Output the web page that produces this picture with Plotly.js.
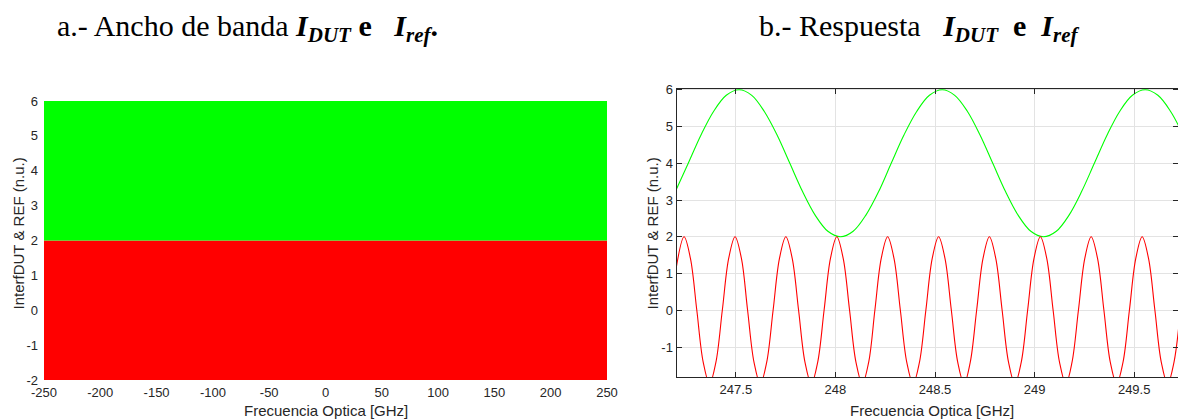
<!DOCTYPE html>
<html>
<head>
<meta charset="utf-8">
<script src="https://cdn.plot.ly/plotly-3.0.1.min.js"></script>
<style>html,body{margin:0;padding:0;background:#fff;}#chart{width:1178px;height:420px;}</style>
</head>
<body>
<div id="chart"></div>
<script>
// ---- Panel a: bandwidth (filled envelopes) ----
var bwFreq = [-250, 250];
var bwRefLow = [-2, -2];
var bwRefHigh = [2, 2];
var bwDutLow = [2, 2];
var bwDutHigh = [6, 6];
var bwTicks = [-250, -200, -150, -100, -50, 0, 50, 100, 150, 200, 250];
var bwTickText = ['-250', '-200', '-150', '-100', '-50', '0', '50', '100', '150', '200', '250'];
var bwTicksY = [-2, -1, 0, 1, 2, 3, 4, 5, 6];
var bwTickTextY = ['-2', '-1', '0', '1', '2', '3', '4', '5', '6'];

// ---- Panel b: response ----
var dutFreq = [247.202, 247.261, 247.325, 247.388, 247.452, 247.516, 247.580, 247.643, 247.707,
               247.771, 247.835, 247.898, 247.962, 248.026, 248.089, 248.153, 248.217,
               248.280, 248.344, 248.408, 248.472, 248.536, 248.599, 248.663, 248.726,
               248.790, 248.854, 248.917, 248.981, 249.045, 249.109, 249.173, 249.236,
               249.300, 249.364, 249.427, 249.491, 249.555, 249.619, 249.683, 249.746];
var dutVal  = [3.3, 4, 4.77, 5.41, 5.85, 6, 5.85, 5.41, 4.77,
               4, 3.23, 2.59, 2.15, 2, 2.15, 2.59, 3.23,
               4, 4.77, 5.41, 5.85, 6, 5.85, 5.41, 4.77,
               4, 3.23, 2.59, 2.15, 2, 2.15, 2.59, 3.23,
               4, 4.77, 5.41, 5.85, 6, 5.85, 5.41, 4.77];

var refFreq = [247.202, 247.240, 247.272, 247.304, 247.336, 247.368, 247.400, 247.432, 247.464,
               247.496, 247.528, 247.559, 247.591, 247.623, 247.655, 247.687, 247.719,
               247.751, 247.783, 247.815, 247.847, 247.879, 247.911, 247.943, 247.975,
               248.007, 248.039, 248.071, 248.103, 248.135, 248.167, 248.198, 248.230,
               248.262, 248.294, 248.326, 248.358, 248.390, 248.422, 248.454, 248.486,
               248.518, 248.550, 248.582, 248.614, 248.646, 248.677, 248.709, 248.741,
               248.773, 248.805, 248.837, 248.869, 248.901, 248.933, 248.965, 248.997,
               249.029, 249.061, 249.093, 249.125, 249.157, 249.188, 249.220, 249.252,
               249.284, 249.316, 249.348, 249.380, 249.412, 249.444, 249.476, 249.508,
               249.540, 249.572, 249.604, 249.636, 249.668, 249.700, 249.732];
var refVal  = [1.2, 2, 1.41, 0, -1.41, -2, -1.41, 0, 1.41,
               2, 1.41, 0, -1.41, -2, -1.41, 0, 1.41,
               2, 1.41, 0, -1.41, -2, -1.41, 0, 1.41,
               2, 1.41, 0, -1.41, -2, -1.41, 0, 1.41,
               2, 1.41, 0, -1.41, -2, -1.41, 0, 1.41,
               2, 1.41, 0, -1.41, -2, -1.41, 0, 1.41,
               2, 1.41, 0, -1.41, -2, -1.41, 0, 1.41,
               2, 1.41, 0, -1.41, -2, -1.41, 0, 1.41,
               2, 1.41, 0, -1.41, -2, -1.41, 0, 1.41,
               2, 1.41, 0, -1.41, -2, -1.41, 0];
var respTicksY = [-1, 0, 1, 2, 3, 4, 5, 6];
var respTickTextY = ['-1', '0', '1', '2', '3', '4', '5', '6'];
var respTicksX = [247.5, 248, 248.5, 249, 249.5];
var respTickTextX = ['247.5', '248', '248.5', '249', '249.5'];

var W = 1178, H = 420;
function px(x) { return x / W; }
function py(y) { return 1 - y / H; }

var textCol = '#262626';
var sans = 'Liberation Sans, Arial, sans-serif';
var serif = 'Liberation Serif, Times New Roman, serif';

var traces = [
  {x: bwFreq, y: bwRefLow, xaxis: 'x', yaxis: 'y', mode: 'lines', line: {width: 0, color: '#ff0000'}, hoverinfo: 'skip', showlegend: false},
  {x: bwFreq, y: bwRefHigh, xaxis: 'x', yaxis: 'y', mode: 'lines', fill: 'tonexty', fillcolor: '#ff0000', line: {width: 0, color: '#ff0000'}, showlegend: false},
  {x: bwFreq, y: bwDutLow, xaxis: 'x', yaxis: 'y', mode: 'lines', line: {width: 0, color: '#00ff00'}, hoverinfo: 'skip', showlegend: false},
  {x: bwFreq, y: bwDutHigh, xaxis: 'x', yaxis: 'y', mode: 'lines', fill: 'tonexty', fillcolor: '#00ff00', line: {width: 0, color: '#00ff00'}, showlegend: false},
  {x: dutFreq, y: dutVal, xaxis: 'x2', yaxis: 'y2', mode: 'lines', line: {color: '#00ff00', width: 1.1, shape: 'spline', smoothing: 1}, showlegend: false},
  {x: refFreq, y: refVal, xaxis: 'x2', yaxis: 'y2', mode: 'lines', line: {color: '#ff0000', width: 1.1, shape: 'spline', smoothing: 1}, showlegend: false}
];

var tickFont = {family: sans, size: 13, color: textCol};

var layout = {
  width: W, height: H,
  margin: {l: 0, r: 0, t: 0, b: 0},
  paper_bgcolor: '#ffffff',
  plot_bgcolor: '#ffffff',
  showlegend: false,
  xaxis: {
    domain: [px(44), px(607)], range: [-250, 250],
    tickmode: 'array', tickvals: bwTicks, ticktext: bwTickText,
    showgrid: false, zeroline: false, showline: false, ticks: '',
    tickfont: tickFont, ticklabelstandoff: 3, anchor: 'y'
  },
  yaxis: {
    domain: [py(380), py(101)], range: [-2, 6],
    tickmode: 'array', tickvals: bwTicksY, ticktext: bwTickTextY,
    showgrid: false, zeroline: false, showline: false, ticks: '',
    tickfont: tickFont, ticklabelstandoff: 5, anchor: 'x'
  },
  xaxis2: {
    domain: [px(676.5), 1], range: [247.202, 249.72],
    tickmode: 'array', tickvals: respTicksX, ticktext: respTickTextX,
    showgrid: true, gridcolor: '#e3e3e3', gridwidth: 1, zeroline: false,
    showline: true, linecolor: textCol, linewidth: 1, mirror: 'ticks',
    ticks: 'inside', ticklen: 5, tickcolor: textCol, tickwidth: 1,
    tickfont: tickFont, anchor: 'y2'
  },
  yaxis2: {
    domain: [py(377), py(88.7)], range: [-1.816, 6.03],
    tickmode: 'array', tickvals: respTicksY, ticktext: respTickTextY,
    showgrid: true, gridcolor: '#e3e3e3', gridwidth: 1, zeroline: false,
    showline: true, linecolor: textCol, linewidth: 1, mirror: 'ticks',
    ticks: 'inside', ticklen: 5, tickcolor: textCol, tickwidth: 1,
    tickfont: tickFont, anchor: 'x2'
  },
  annotations: [
    {xref: 'paper', yref: 'paper', x: px(55), y: py(7), xanchor: 'left', yanchor: 'top', showarrow: false,
     font: {family: serif, size: 30, color: '#000000'},
     text: 'a.- Ancho de banda&nbsp;<b><i>I</i></b><sub><b><i>DUT</i></b></sub>&nbsp;<b>e</b>&nbsp;&nbsp;&nbsp;<b><i>I</i></b><sub><b><i>ref</i></b></sub><b>.</b>'},
    {xref: 'paper', yref: 'paper', x: px(757), y: py(7), xanchor: 'left', yanchor: 'top', showarrow: false,
     font: {family: serif, size: 30, color: '#000000'},
     text: 'b.- Respuesta&nbsp;&nbsp;&nbsp;<b><i>I</i></b><sub><b><i>DUT</i></b></sub>&nbsp;&nbsp;<b>e</b>&nbsp;&nbsp;<b><i>I</i></b><sub><b><i>ref</i></b></sub>'},
    {xref: 'paper', yref: 'paper', x: px(325.5), y: py(410), xanchor: 'center', yanchor: 'middle', showarrow: false,
     font: {family: sans, size: 15, color: textCol}, text: 'Frecuencia Optica [GHz]'},
    {xref: 'paper', yref: 'paper', x: px(932), y: py(410), xanchor: 'center', yanchor: 'middle', showarrow: false,
     font: {family: sans, size: 15, color: textCol}, text: 'Frecuencia Optica [GHz]'},
    {xref: 'paper', yref: 'paper', x: px(17.5), y: py(234), xanchor: 'center', yanchor: 'middle', showarrow: false, textangle: -90,
     font: {family: sans, size: 15, color: textCol}, text: 'InterfDUT &amp; REF (n.u.)'},
    {xref: 'paper', yref: 'paper', x: px(651.5), y: py(234), xanchor: 'center', yanchor: 'middle', showarrow: false, textangle: -90,
     font: {family: sans, size: 15, color: textCol}, text: 'InterfDUT &amp; REF (n.u.)'}
  ]
};

Plotly.newPlot('chart', traces, layout, {staticPlot: true, displayModeBar: false});
</script>
</body>
</html>
